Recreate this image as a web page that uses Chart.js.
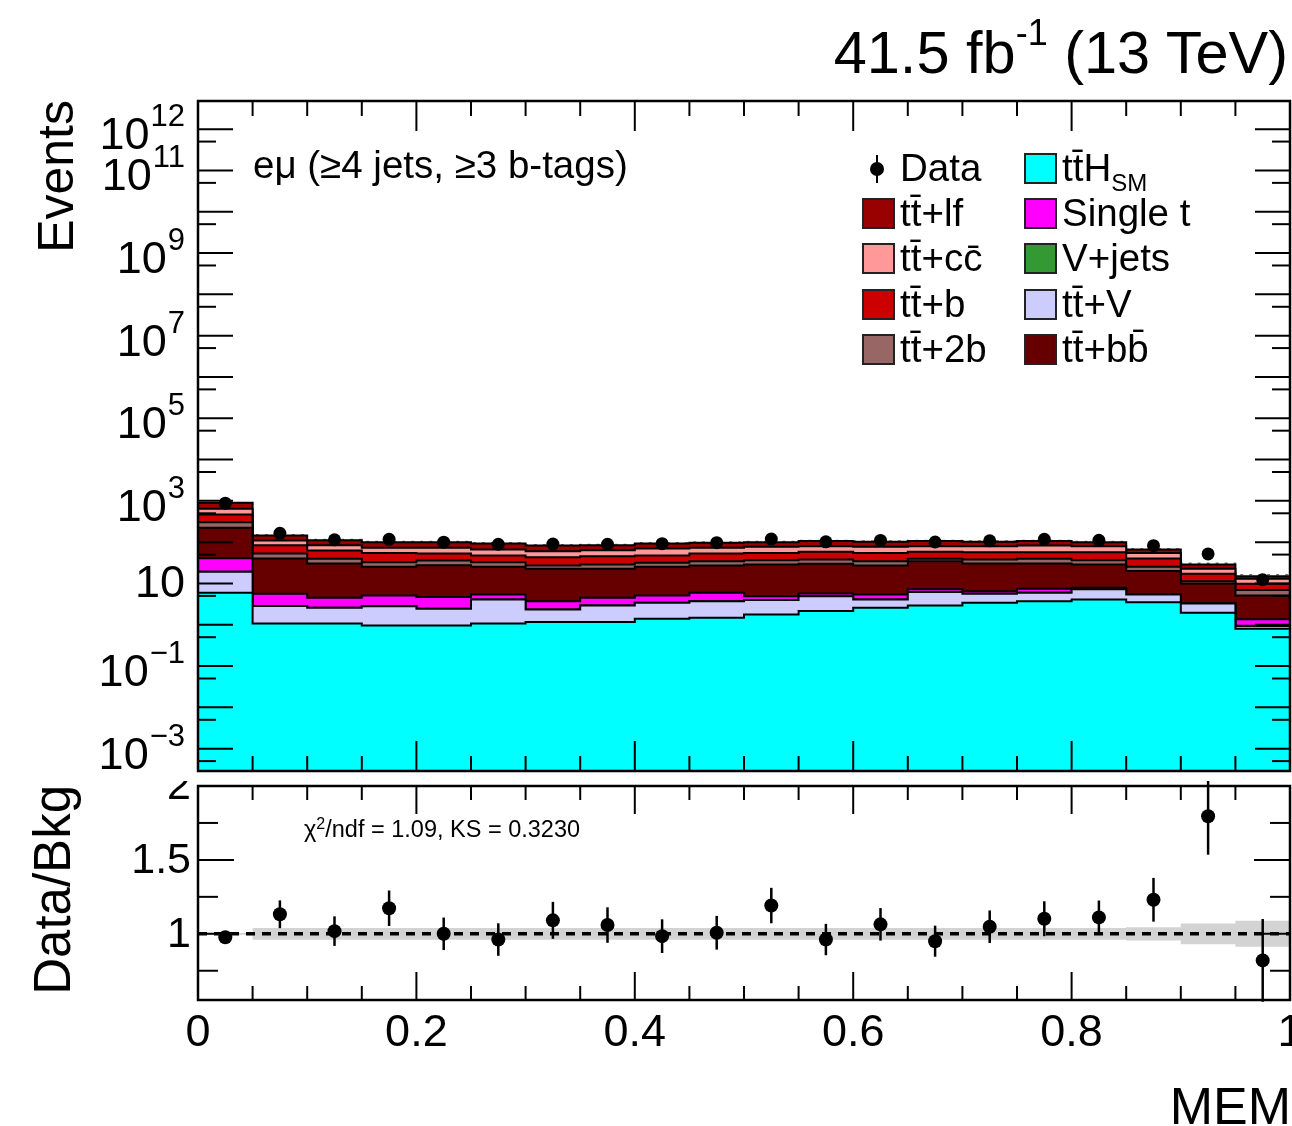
<!DOCTYPE html>
<html>
<head>
<meta charset="utf-8">
<script src="https://cdn.jsdelivr.net/npm/chart.js@4.4.1/dist/chart.umd.min.js"></script>
<style>
  html, body { margin: 0; padding: 0; background: #fff; }
  #wrap { position: relative; width: 1292px; height: 1126px; overflow: hidden;
          font-family: "Liberation Sans", Arial, sans-serif; color: #000; }
  canvas { position: absolute; left: 0; }
  #main { top: 0; }
  #ratio { top: 781px; }
  .t { position: absolute; white-space: nowrap; line-height: 1; }
  .box { position: absolute; width: 33px; height: 31px; box-sizing: border-box; border: 2px solid #222; }
  .leg { font-size: 38.5px; }
</style>
</head>
<body>
<div id="wrap">
  <canvas id="main" width="1292" height="786"></canvas>
  <canvas id="ratio" width="1292" height="345"></canvas>

  <div class="t" style="right:4px; top:23px; font-size:59.5px">41.5 fb<span style="font-size:36px; position:relative; top:-28px">-1</span> (13 TeV)</div>
  <div class="t" style="left:31px; top:771px; width:671px; text-align:right; font-size:50px; transform-origin:0 0; transform:rotate(-90deg)">Events</div>
  <div class="t" style="left:27px; top:1000px; width:215px; text-align:right; font-size:51px; transform-origin:0 0; transform:rotate(-90deg)">Data/Bkg</div>
  <div class="t" style="right:1px; top:1080px; font-size:52px">MEM</div>
  <div class="t" style="left:253px; top:146px; font-size:38.5px">eμ (≥4 jets, ≥3 b-tags)</div>
  <div class="t" style="left:304px; top:818px; font-size:23.5px">χ<span style="font-size:16px; position:relative; top:-8px">2</span>/ndf = 1.09, KS = 0.3230</div>

  <!-- legend, column 1 -->
  <div style="position:absolute; left:876px; top:155px; width:2px; height:28px; background:#000"></div>
  <div style="position:absolute; left:870px; top:162px; width:14px; height:14px; border-radius:50%; background:#000"></div>
  <div class="t leg" style="left:900px; top:149px">Data</div>
  <div class="box" style="left:862px; top:198px; background:#990000"></div>
  <div class="t leg" style="left:900px; top:194px">tt̄+lf</div>
  <div class="box" style="left:862px; top:243px; background:#ff9999"></div>
  <div class="t leg" style="left:900px; top:239px">tt̄+cc̄</div>
  <div class="box" style="left:862px; top:289px; background:#cc0000"></div>
  <div class="t leg" style="left:900px; top:285px">tt̄+b</div>
  <div class="box" style="left:862px; top:334px; background:#996666"></div>
  <div class="t leg" style="left:900px; top:330px">tt̄+2b</div>
  <!-- legend, column 2 -->
  <div class="box" style="left:1024px; top:153px; background:#00ffff"></div>
  <div class="t leg" style="left:1062px; top:149px">tt̄H<span style="font-size:24px; position:relative; top:10px">SM</span></div>
  <div class="box" style="left:1024px; top:198px; background:#ff00ff"></div>
  <div class="t leg" style="left:1062px; top:194px">Single t</div>
  <div class="box" style="left:1024px; top:243px; background:#339933"></div>
  <div class="t leg" style="left:1062px; top:239px">V+jets</div>
  <div class="box" style="left:1024px; top:289px; background:#ccccff"></div>
  <div class="t leg" style="left:1062px; top:285px">tt̄+V</div>
  <div class="box" style="left:1024px; top:334px; background:#660000"></div>
  <div class="t leg" style="left:1062px; top:330px">tt̄+bb̄</div>
</div>

<script>
// MEM discriminant, 20 bins
const binEdges = [0, 0.05, 0.1, 0.15, 0.2, 0.25, 0.3, 0.35, 0.4, 0.45, 0.5,
                  0.55, 0.6, 0.65, 0.7, 0.75, 0.8, 0.85, 0.9, 0.95, 1];

// expected events per process (stacked bottom to top)
const ttH     = [5.96, 1.08, 1.08, 0.96, 0.96, 1.08, 1.16, 1.16, 1.40, 1.48, 1.78, 2.14, 2.58, 2.93, 3.40, 3.70, 4.10, 3.53, 1.95, 0.80];
const ttV     = [13.2, 1.75, 1.50, 1.86, 1.48, 3.00, 1.18, 1.77, 2.00, 2.22, 2.17, 2.76, 1.52, 3.27, 2.20, 2.26, 3.10, 1.87, 1.33, 0.13];
const vJets   = [0.05, 0.01, 0.01, 0.01, 0.01, 0.01, 0.01, 0.01, 0.01, 0.01, 0.01, 0.01, 0.01, 0.01, 0.02, 0.01, 0.02, 0.01, 0.01, 0.02];
const singleT = [21.8, 2.78, 1.92, 2.28, 2.22, 1.30, 1.36, 1.57, 1.70, 2.26, 0.95, 0.80, 1.30, 1.00, 0.90, 1.49, 0.70, 0.00, 0.00, 0.41];
const ttbb    = [182, 34.7, 26.0, 20.2, 23.0, 19.9, 19.0, 18.2, 20.2, 21.3, 24.0, 24.3, 21.9, 27.5, 24.0, 23.0, 21.0, 14.5, 6.7, 3.76];
const tt2b    = [82, 12.7, 9.3, 7.5, 8.3, 7.5, 4.6, 6.2, 6.4, 7.4, 7.8, 8.0, 7.4, 5.1, 7.5, 9.3, 7.8, 5.4, 1.4, 1.8];
const ttb     = [163, 31.5, 23.2, 22.2, 17.0, 14.8, 16.1, 16.9, 15.9, 18.3, 18.3, 20.5, 20.3, 18.7, 19.0, 17.2, 20.3, 15.0, 5.8, 2.9];
const ttcc    = [178, 25.5, 21.5, 18.0, 20.0, 18.9, 17.1, 18.2, 22.4, 20.0, 22.0, 21.5, 22.0, 21.5, 23.0, 26.0, 23.0, 14.7, 5.5, 3.2];
const ttlf    = [254, 35, 27.5, 27, 27, 26.5, 22.5, 20.5, 23, 23.5, 23, 26, 26, 26, 23, 23, 20, 11.5, 6.2, 2.0];

const dataCounts = [880, 164, 114, 117, 100, 89, 90, 89, 92, 97, 119, 102, 110, 101, 108, 117, 111, 82, 52, 12.3];

// ratio panel
const ratio    = [0.977, 1.132, 1.018, 1.173, 1.0, 0.961, 1.091, 1.059, 0.984, 1.007, 1.191, 0.961, 1.064, 0.95, 1.048, 1.102, 1.111, 1.23, 1.795, 0.82];
const ratioErr = [0.035, 0.094, 0.10, 0.12, 0.11, 0.11, 0.125, 0.12, 0.114, 0.114, 0.12, 0.106, 0.11, 0.105, 0.11, 0.118, 0.114, 0.148, 0.26, 0.28];
const bkgUnc   = [0.006, 0.04, 0.04, 0.04, 0.04, 0.04, 0.04, 0.04, 0.04, 0.04, 0.04, 0.04, 0.04, 0.04, 0.04, 0.04, 0.04, 0.045, 0.07, 0.088];

// axis labels
const yExponents = [-3, -1, 1, 3, 5, 7, 9, 11, 12];
const xTickLabels = ['0', '0.2', '0.4', '0.6', '0.8', '1'];
const ratioTickLabels = ['1', '1.5', '2'];

const FONT = '"Liberation Sans", Arial, sans-serif';
const centers = binEdges.slice(0, -1).map((e, i) => (e + binEdges[i + 1]) / 2);

function stepPoints(vals) {
  return binEdges.map((e, i) => ({ x: e, y: vals[Math.min(i, vals.length - 1)] }));
}

const layers = [
  { label: 'ttH', values: ttH, color: '#00ffff' },
  { label: 'tt+V', values: ttV, color: '#ccccff' },
  { label: 'V+jets', values: vJets, color: '#339933' },
  { label: 'Single t', values: singleT, color: '#ff00ff' },
  { label: 'tt+bb', values: ttbb, color: '#660000' },
  { label: 'tt+2b', values: tt2b, color: '#996666' },
  { label: 'tt+b', values: ttb, color: '#cc0000' },
  { label: 'tt+cc', values: ttcc, color: '#ff9999' },
  { label: 'tt+lf', values: ttlf, color: '#990000' }
];

let running = ttH.map(() => 0);
const stackSets = layers.map((l, k) => {
  running = running.map((r, i) => r + l.values[i]);
  return {
    label: l.label,
    data: stepPoints(running.slice()),
    stepped: 'before',
    borderColor: '#000',
    borderWidth: 2,
    pointRadius: 0,
    backgroundColor: l.color,
    fill: k === 0 ? 'start' : '-1'
  };
});
const totals = running.slice();

function line(ctx, x1, y1, x2, y2) {
  ctx.beginPath(); ctx.moveTo(x1, y1); ctx.lineTo(x2, y2); ctx.stroke();
}

function drawXTicks(ctx, a, x, longLen, shortLen) {
  binEdges.forEach((e, k) => {
    const px = x.getPixelForValue(e);
    const len = k % 4 === 0 ? longLen : shortLen;
    line(ctx, px, a.bottom, px, a.bottom - len);
    line(ctx, px, a.top, px, a.top + len);
  });
}

const mainAxes = {
  id: 'mainAxes',
  afterDraw(chart) {
    const { ctx, chartArea: a, scales: { x, y } } = chart;
    ctx.save();
    ctx.strokeStyle = '#000';
    ctx.lineWidth = 2;
    drawXTicks(ctx, a, x, 30, 15);
    for (let n = -4; n <= 12; n++) {
      [1, 5].forEach(m => {
        const v = m * Math.pow(10, n);
        if (v < y.min || v > y.max) return;
        const py = y.getPixelForValue(v);
        const len = m === 1 ? 35 : 18;
        line(ctx, a.left, py, a.left + len, py);
        line(ctx, a.right, py, a.right - len, py);
      });
    }
    ctx.lineWidth = 2.5;
    ctx.strokeRect(a.left, a.top, a.right - a.left, a.bottom - a.top);

    ctx.fillStyle = '#000';
    ctx.textAlign = 'right';
    yExponents.forEach(n => {
      const py = y.getPixelForValue(Math.pow(10, n));
      const xr = 185;
      if (n === 1) {
        ctx.font = '45px ' + FONT;
        ctx.textBaseline = 'middle';
        ctx.fillText('10', xr, py + 1);
        return;
      }
      const exp = n < 0 ? '\u2212' + (-n) : String(n);
      ctx.textBaseline = 'alphabetic';
      ctx.font = '31px ' + FONT;
      const w = ctx.measureText(exp).width;
      ctx.fillText(exp, xr, py - 3);
      ctx.font = '45px ' + FONT;
      ctx.fillText('10', xr - w - 1, py + 20);
    });
    ctx.restore();
  }
};

const ratioAxes = {
  id: 'ratioAxes',
  afterDatasetsDraw(chart) {
    const { ctx, scales: { x, y } } = chart;
    ctx.save();
    ctx.strokeStyle = '#000';
    ctx.lineWidth = 2.5;
    centers.forEach((c, i) => {
      const px = x.getPixelForValue(c);
      line(ctx, px, y.getPixelForValue(ratio[i] - ratioErr[i]), px, y.getPixelForValue(ratio[i] + ratioErr[i]));
    });
    ctx.restore();
  },
  afterDraw(chart) {
    const { ctx, chartArea: a, scales: { x, y } } = chart;
    ctx.save();
    ctx.strokeStyle = '#000';
    ctx.lineWidth = 2;
    drawXTicks(ctx, a, x, 28, 14);
    [0.75, 1, 1.25, 1.5, 1.75, 2].forEach(v => {
      const py = y.getPixelForValue(v);
      const len = (v === 1 || v === 1.5 || v === 2) ? 36 : 20;
      line(ctx, a.left, py, a.left + len, py);
      line(ctx, a.right, py, a.right - len, py);
    });
    ctx.lineWidth = 2.5;
    ctx.strokeRect(a.left, a.top, a.right - a.left, a.bottom - a.top);

    ctx.fillStyle = '#000';
    ctx.font = '43px ' + FONT;
    ctx.textAlign = 'right';
    ctx.textBaseline = 'middle';
    ratioTickLabels.forEach(t => {
      ctx.fillText(t, 191, y.getPixelForValue(parseFloat(t)) + 1);
    });
    ctx.font = '45px ' + FONT;
    ctx.textAlign = 'center';
    ctx.textBaseline = 'alphabetic';
    xTickLabels.forEach(t => {
      ctx.fillText(t, x.getPixelForValue(parseFloat(t)), a.bottom + 46);
    });
    ctx.restore();
  }
};

Chart.defaults.font.family = FONT;

new Chart(document.getElementById('main'), {
  type: 'line',
  data: {
    datasets: [
      ...stackSets,
      {
        label: 'unc',
        data: stepPoints(totals.map((t, i) => t * (1 + bkgUnc[i]))),
        stepped: 'before',
        borderColor: '#777',
        borderWidth: 1.5,
        borderDash: [3, 6],
        pointRadius: 0,
        fill: false
      },
      {
        label: 'Data',
        data: centers.map((c, i) => ({ x: c, y: dataCounts[i] })),
        showLine: false,
        pointRadius: 6.5,
        pointBorderWidth: 0,
        pointBackgroundColor: '#000',
        order: -1
      }
    ]
  },
  options: {
    responsive: false,
    animation: false,
    layout: { autoPadding: false, padding: { left: 198, right: 2, top: 101, bottom: 15 } },
    plugins: { legend: { display: false }, tooltip: { enabled: false } },
    scales: {
      x: { type: 'linear', min: 0, max: 1, display: false },
      y: { type: 'logarithmic', min: 2.88e-4, max: 4.8e12, display: false }
    }
  },
  plugins: [mainAxes]
});

new Chart(document.getElementById('ratio'), {
  type: 'line',
  data: {
    datasets: [
      {
        label: 'bandLow',
        data: stepPoints(bkgUnc.map(u => 1 - u)),
        stepped: 'before', borderWidth: 0, pointRadius: 0, fill: false
      },
      {
        label: 'bandHigh',
        data: stepPoints(bkgUnc.map(u => 1 + u)),
        stepped: 'before', borderWidth: 0, pointRadius: 0,
        backgroundColor: '#d3d3d3', fill: '-1'
      },
      {
        label: 'unity',
        data: [{ x: 0, y: 1 }, { x: 1, y: 1 }],
        borderColor: '#000', borderWidth: 3.5, borderDash: [9, 7], pointRadius: 0, fill: false,
        order: -1
      },
      {
        label: 'Data/Bkg',
        data: centers.map((c, i) => ({ x: c, y: ratio[i] })),
        showLine: false,
        pointRadius: 7,
        pointBorderWidth: 0,
        pointBackgroundColor: '#000',
        order: -2
      }
    ]
  },
  options: {
    responsive: false,
    animation: false,
    layout: { autoPadding: false, padding: { left: 198, right: 2, top: 5, bottom: 126 } },
    plugins: { legend: { display: false }, tooltip: { enabled: false } },
    scales: {
      x: { type: 'linear', min: 0, max: 1, display: false },
      y: { type: 'linear', min: 0.552, max: 2.0, display: false }
    }
  },
  plugins: [ratioAxes]
});
</script>
</body>
</html>
